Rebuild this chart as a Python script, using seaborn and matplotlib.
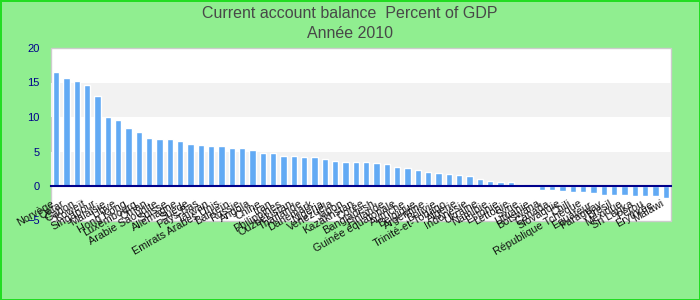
import matplotlib
matplotlib.use("Agg")
import matplotlib.pyplot as plt
import seaborn as sns

countries = [
    "Norvège", "Qatar", "Gabon", "Koweït", "Singapour", "Malaisie", "Libye",
    "Hong Kong", "Luxembourg", "Oman", "Arabie Saoudite", "Suisse", "Allemagne",
    "Suède", "Pays-Bas", "Taïwan", "Emirats Arabes Unis", "Bahreïn", "Russie",
    "Angola", "Chine", "Iran", "Philippines", "Ouzbékistan", "Thaïlande",
    "Danemark", "Nigéria", "Venezuela", "Japon", "Kazakhstan", "Corée",
    "Bangladesh", "Finlande", "Guinée équatoriale", "Autriche", "Belgique",
    "Argentine", "Bolivie", "Trinité-et-Tobago", "Algérie", "Indonésie",
    "Ukraine", "Namibie", "Estonie", "Lettonie", "Syrie", "Lituanie",
    "Botswana", "Canada", "Slovaquie", "Chili", "République Tchèque",
    "Équateur", "Paraguay", "Brésil", "Mexique", "Sri Lanka", "Pérou",
    "Érythrée", "Malawi",
]
values = [
    16.5, 15.65, 15.2, 14.6, 13.0, 10.0, 9.55, 8.4, 7.8, 6.95,
    6.8, 6.8, 6.5, 6.1, 5.95, 5.85, 5.85, 5.55, 5.55, 5.25,
    4.83, 4.83, 4.4, 4.4, 4.25, 4.25, 3.96, 3.67, 3.53, 3.5,
    3.48, 3.33, 3.19, 2.75, 2.6, 2.32, 2.03, 1.88, 1.74, 1.59,
    1.45, 1.01, 0.72, 0.6, 0.6, 0.15, 0.02, -0.53, -0.53, -0.68,
    -0.82, -0.82, -0.97, -1.26, -1.26, -1.26, -1.4, -1.4, -1.4, -1.69,
]
yticks = [-5, 0, 5, 10, 15, 20]
title1 = "Current account balance  Percent of GDP"
title2 = "Année 2010"

sns.set_style("white")
plt.rcParams["font.family"] = ["Liberation Sans", "DejaVu Sans"]

fig = plt.figure(figsize=(7, 3), dpi=100)
fig.patch.set_facecolor("#90ee90")
fig.patch.set_edgecolor("#22dd22")
fig.patch.set_linewidth(2)

ax = fig.add_axes([51 / 700, 1 - 220.5 / 300, 620 / 700, 172.5 / 300])
ax.set_facecolor("white")

# alternating bands
for lo, hi in [(10, 15), (0, 5)]:
    ax.axhspan(lo, hi, color="#f2f2f2", zorder=0, lw=0)

sns.barplot(x=countries, y=values, color="#62aaf4", saturation=1,
            width=0.6, ax=ax, zorder=2)

ax.set_ylim(-5, 20)
ax.set_xlim(-0.5, len(countries) - 0.5)
ax.set_yticks(yticks)
ax.set_xlabel("")
ax.set_ylabel("")

for s in ["top", "left", "right"]:
    ax.spines[s].set_visible(False)
ax.spines["bottom"].set_position(("data", 0))
ax.spines["bottom"].set_color("#00008b")
ax.spines["bottom"].set_linewidth(1.5)
ax.spines["bottom"].set_zorder(3)
ax.patch.set_edgecolor("#cccccc")
ax.patch.set_linewidth(1)

ax.tick_params(axis="y", length=0, pad=8, labelsize=8, labelcolor="#00008b")
ax.tick_params(axis="x", length=0, pad=9, labelsize=7.8, labelcolor="#111111")
for lab in ax.get_xticklabels():
    lab.set_rotation(30)
    lab.set_ha("right")
    lab.set_va("top")

fig.text(0.5, 1 - 14 / 300, title1, ha="center", va="center",
         fontsize=11.5, color="#484848")
fig.text(0.5, 1 - 33 / 300, title2, ha="center", va="center",
         fontsize=11.5, color="#484848")

fig.savefig("out.png", dpi=100, facecolor=fig.get_facecolor(),
            edgecolor=fig.get_edgecolor())
